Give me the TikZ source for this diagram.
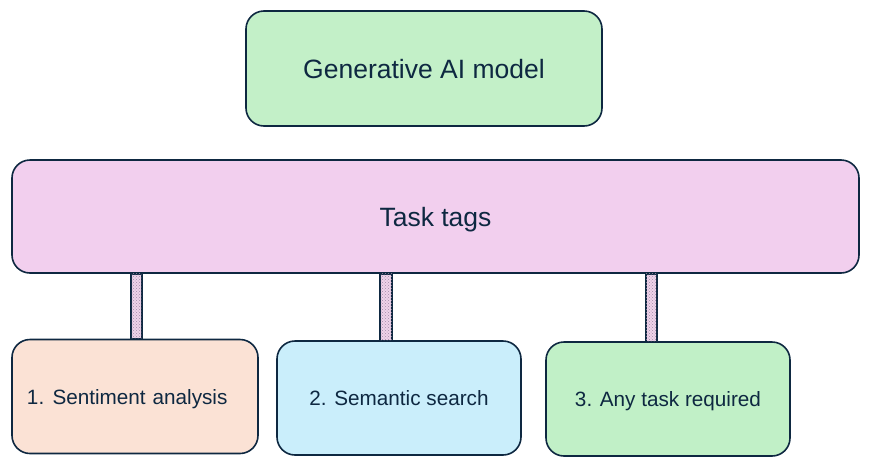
\documentclass[tikz,border=0pt]{standalone}
\usepackage{fontspec}
\setmainfont{Liberation Sans}
\usetikzlibrary{positioning, patterns}

\definecolor{edgeblue}{HTML}{0E2841}
\definecolor{modelgreen}{HTML}{C3F0C8}
\definecolor{tagpink}{HTML}{F2CFEE}
\definecolor{taskpeach}{HTML}{FBE2D5}
\definecolor{taskblue}{HTML}{CAEEFB}
\definecolor{taskgreen}{HTML}{C1F0C7}
\definecolor{linkpink}{HTML}{EFD3EA}
\definecolor{dotgrey}{HTML}{A08CA8}

\tikzset{
  box/.style={draw=edgeblue, line width=1.6pt, rounded corners=18pt,
    text=edgeblue, inner sep=0pt, text depth=0pt},
  bigbox/.style={box, font=\fontsize{26.5}{31}\selectfont},
  taskbox/.style={box, minimum width=245pt, minimum height=114pt,
    font=\fontsize{20.7}{25}\selectfont},
  link/.style={draw=edgeblue, line width=1.4pt, fill=linkpink,
    postaction={pattern=crosshatch dots, pattern color=dotgrey}}
}

\begin{document}
\begin{tikzpicture}[x=1pt, y=-1pt]
    \useasboundingbox (0,0) rectangle (871,464);

    \node[bigbox, fill=modelgreen, minimum width=356pt, minimum height=115pt] (model) at (424,68.5) {Generative AI model};
    \node[bigbox, fill=tagpink, minimum width=847pt, minimum height=113pt] (tags) at (435.5,216.5) {Task tags};

    \node[taskbox, fill=taskpeach, text width=216pt, inner xsep=15pt, align=left] (sentiment) at (135,396.5) {1.\hspace{0.4em}Sentiment analysis};
    \node[taskbox, fill=taskblue, minimum width=244pt] (search) at (399,398) {2. Semantic search};
    \node[taskbox, fill=taskgreen, minimum width=244pt] (anytask) at (668,399) {3. Any task required};

    % bars between the tag box and the tasks
    \coordinate (l1) at (131,0); \coordinate (r1) at (142,0);
    \coordinate (l2) at (380,0); \coordinate (r2) at (392,0);
    \coordinate (l3) at (646,0); \coordinate (r3) at (657,0);
    \draw[link] (tags.south -| l1) rectangle (sentiment.north -| r1);
    \draw[link] (tags.south -| l2) rectangle (search.north -| r2);
    \draw[link] (tags.south -| l3) rectangle (anytask.north -| r3);
\end{tikzpicture}
\end{document}
